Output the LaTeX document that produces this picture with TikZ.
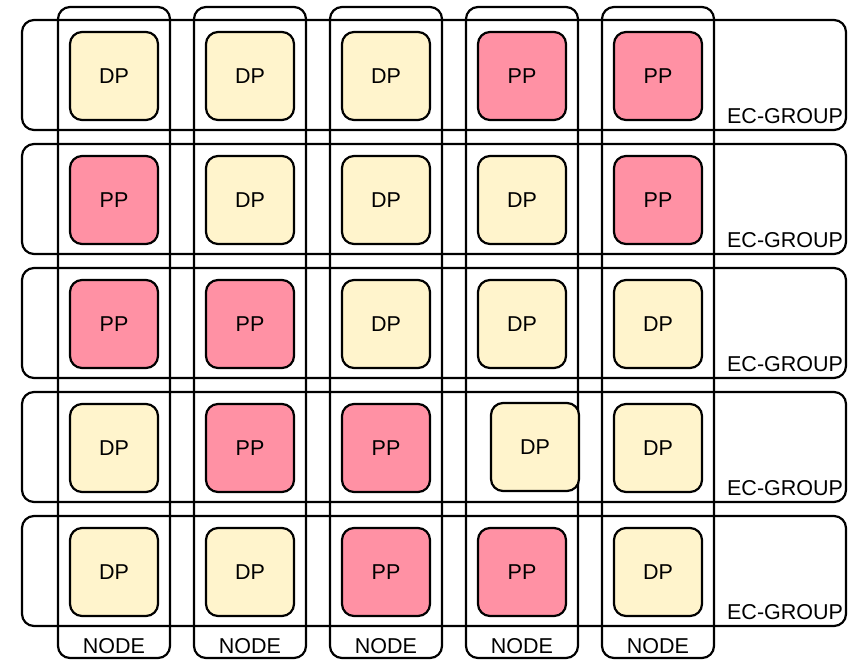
\documentclass[tikz,border=0pt]{standalone}
\usepackage{fontspec}
\setmainfont{Liberation Sans}
\usetikzlibrary{positioning}
\definecolor{dpyellow}{HTML}{FFF4CC}
\definecolor{pppink}{HTML}{FF91A4}

\begin{document}
\begin{tikzpicture}[
    x=1pt, y=-1pt,
    line width=2.2pt,
    group/.style={draw, rounded corners=12pt, minimum width=824pt, minimum height=110pt},
    host/.style={draw, rounded corners=12pt, minimum width=112pt, minimum height=651pt},
    part/.style={draw, fill=#1, rounded corners=12pt, minimum width=88pt, minimum height=88pt,
                 font=\fontsize{21.5}{25}\selectfont},
    lbl/.style={inner sep=0pt, font=\fontsize{21.5}{25}\selectfont},
]
    \useasboundingbox (0,0) rectangle (848,661);

    % EC groups (rows)
    \node[group] (grp1) at (434,75) {};
    \node[group] (grp2) at (434,199) {};
    \node[group] (grp3) at (434,323) {};
    \node[group] (grp4) at (434,447) {};
    \node[group] (grp5) at (434,571) {};
    \node[lbl, anchor=base east] at ([shift={(-3,-8)}]grp1.south east) {EC-GROUP};
    \node[lbl, anchor=base east] at ([shift={(-3,-8)}]grp2.south east) {EC-GROUP};
    \node[lbl, anchor=base east] at ([shift={(-3,-8)}]grp3.south east) {EC-GROUP};
    \node[lbl, anchor=base east] at ([shift={(-3,-8)}]grp4.south east) {EC-GROUP};
    \node[lbl, anchor=base east] at ([shift={(-3,-8)}]grp5.south east) {EC-GROUP};

    % nodes (columns)
    \node[host] (node1) at (114,332.5) {};
    \node[host] (node2) at (250,332.5) {};
    \node[host] (node3) at (386,332.5) {};
    \node[host] (node4) at (522,332.5) {};
    \node[host] (node5) at (658,332.5) {};
    \node[lbl, anchor=base] at ([yshift=6]node1.south) {NODE};
    \node[lbl, anchor=base] at ([yshift=6]node2.south) {NODE};
    \node[lbl, anchor=base] at ([yshift=6]node3.south) {NODE};
    \node[lbl, anchor=base] at ([yshift=6]node4.south) {NODE};
    \node[lbl, anchor=base] at ([yshift=6]node5.south) {NODE};

    % row 1
    \node[part=dpyellow] (p11) at (114,76) {DP};
    \node[part=dpyellow] (p12) at (250,76) {DP};
    \node[part=dpyellow] (p13) at (386,76) {DP};
    \node[part=pppink] (p14) at (522,76) {PP};
    \node[part=pppink] (p15) at (658,76) {PP};

    % row 2
    \node[part=pppink] (p21) at (114,200) {PP};
    \node[part=dpyellow] (p22) at (250,200) {DP};
    \node[part=dpyellow] (p23) at (386,200) {DP};
    \node[part=dpyellow] (p24) at (522,200) {DP};
    \node[part=pppink] (p25) at (658,200) {PP};

    % row 3
    \node[part=pppink] (p31) at (114,324) {PP};
    \node[part=pppink] (p32) at (250,324) {PP};
    \node[part=dpyellow] (p33) at (386,324) {DP};
    \node[part=dpyellow] (p34) at (522,324) {DP};
    \node[part=dpyellow] (p35) at (658,324) {DP};

    % row 4
    \node[part=dpyellow] (p41) at (114,448) {DP};
    \node[part=pppink] (p42) at (250,448) {PP};
    \node[part=pppink] (p43) at (386,448) {PP};
    \node[part=dpyellow] (p44) at (535,447) {DP};
    \node[part=dpyellow] (p45) at (658,448) {DP};

    % row 5
    \node[part=dpyellow] (p51) at (114,572) {DP};
    \node[part=dpyellow] (p52) at (250,572) {DP};
    \node[part=pppink] (p53) at (386,572) {PP};
    \node[part=pppink] (p54) at (522,572) {PP};
    \node[part=dpyellow] (p55) at (658,572) {DP};
\end{tikzpicture}
\end{document}
